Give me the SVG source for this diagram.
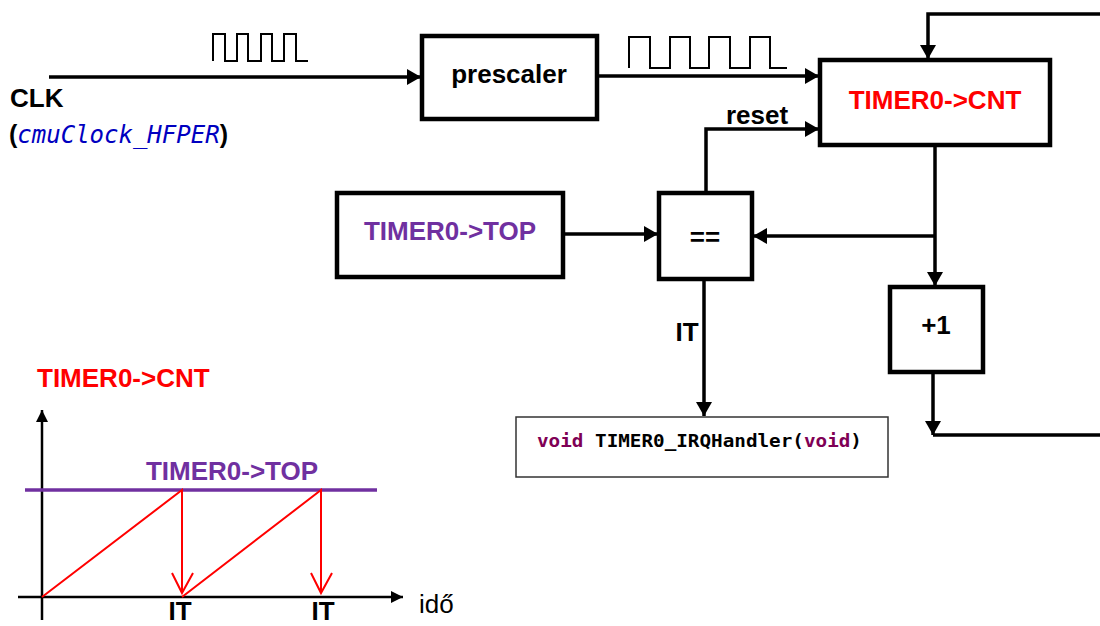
<svg xmlns="http://www.w3.org/2000/svg" width="1100" height="626" viewBox="0 0 1100 626">
<style>
.box{fill:#fff;stroke:#000;stroke-width:4.5}
.ln{fill:none;stroke:#000;stroke-width:3.5}
.wave{fill:none;stroke:#000;stroke-width:2}
.t{font-family:"Liberation Sans",Arial,sans-serif;font-weight:bold;font-size:26px;fill:#000}
.mono{font-family:"DejaVu Sans Mono","Liberation Mono",monospace;font-weight:bold;font-size:18px;fill:#000}
</style>
<defs>
<marker id="ah" viewBox="0 0 14 16" refX="14" refY="8" markerWidth="14" markerHeight="16" markerUnits="userSpaceOnUse" orient="auto">
<path d="M0,0 L14,8 L0,16 z" fill="#000"/>
</marker>
<marker id="ah2" viewBox="0 0 12 12" refX="12" refY="6" markerWidth="12" markerHeight="12" markerUnits="userSpaceOnUse" orient="auto">
<path d="M0,0 L12,6 L0,12 z" fill="#000"/>
</marker>
</defs>
<rect width="1100" height="626" fill="#fff"/>

<g id="connectors">
<path class="ln" d="M49,77 H421" marker-end="url(#ah)"/>
<path class="ln" d="M597,76 H819" marker-end="url(#ah)"/>
<path class="ln" d="M1100,14 H928 V59" marker-end="url(#ah)"/>
<path class="ln" d="M706,193 V129 H819" marker-end="url(#ah)"/>
<path class="ln" d="M563,234 H658" marker-end="url(#ah)"/>
<path class="ln" d="M935,145 V286" marker-end="url(#ah)"/>
<path class="ln" d="M935,236 H753" marker-end="url(#ah)"/>
<path class="ln" d="M933,372 V435" marker-end="url(#ah)"/>
<path class="ln" d="M933,435 H1100"/>
<path class="ln" d="M704,279 V416" marker-end="url(#ah)"/>
<text class="t" x="757" y="124" text-anchor="middle" font-size="24">reset</text>
<text class="t" x="687" y="341" text-anchor="middle" font-size="24">IT</text>
</g>

<g id="clk">
<path class="wave" d="M213,61 V34 H225 V61 H237 V34 H248 V61 H261 V34 H272 V61 H284 V34 H296 V61 H308"/>
<text class="t" x="10" y="107" font-size="22">CLK</text>
<text x="9" y="143" font-family="Liberation Sans,Arial,sans-serif" font-size="25" font-weight="bold">(<tspan font-family="DejaVu Sans Mono,Liberation Mono,monospace" font-weight="normal" font-style="italic" fill="#0000c0" font-size="24">cmuClock_HFPER</tspan>)</text>
</g>

<g id="prescaler">
<rect class="box" x="422" y="36" width="175" height="83"/>
<text class="t" x="509" y="83" text-anchor="middle" font-size="27">prescaler</text>
</g>

<g id="wave2">
<path class="wave" d="M629,68 V37 H650 V68 H670 V37 H690 V68 H709 V37 H730 V68 H750 V37 H770 V68 H787"/>
</g>

<g id="cnt">
<rect class="box" x="820" y="60" width="230" height="85"/>
<text class="t" x="935" y="109" text-anchor="middle" font-size="27" style="fill:#ff0000">TIMER0-&gt;CNT</text>
</g>

<g id="top">
<rect class="box" x="337" y="193" width="226" height="84"/>
<text class="t" x="450" y="240" text-anchor="middle" font-size="27" style="fill:#7030a0">TIMER0-&gt;TOP</text>
</g>

<g id="eq">
<rect class="box" x="659" y="193" width="93" height="86"/>
<text class="t" x="705" y="246" text-anchor="middle" font-size="27">==</text>
</g>

<g id="plus1">
<rect class="box" x="890" y="287" width="93" height="85"/>
<text class="t" x="936" y="334" text-anchor="middle" font-size="27">+1</text>
</g>

<g id="irq">
<rect x="516" y="417" width="372" height="60" fill="#fff" stroke="#333" stroke-width="1.5"/>
<text class="mono" x="537" y="447" textLength="325" lengthAdjust="spacingAndGlyphs"><tspan fill="#7f0055">void</tspan> TIMER0_IRQHandler(<tspan fill="#7f0055">void</tspan>)</text>
</g>

<g id="chart">
<path d="M42,620 V410" stroke="#000" stroke-width="2.5" fill="none" marker-end="url(#ah2)"/>
<path d="M18,597 H403" stroke="#000" stroke-width="2.5" fill="none" marker-end="url(#ah2)"/>
<path d="M25,490 H377" stroke="#7030a0" stroke-width="3.5" fill="none"/>
<g stroke="#ff0000" stroke-width="2" fill="none">
<path d="M42,597 L182,490 V593"/>
<path d="M172,573 L182,593 L193,573"/>
<path d="M182,597 L321,490 V593"/>
<path d="M311,573 L321,593 L332,573"/>
</g>
<text class="t" x="37" y="387" font-size="21" style="fill:#ff0000">TIMER0-&gt;CNT</text>
<text class="t" x="232" y="480" text-anchor="middle" font-size="27" style="fill:#7030a0">TIMER0-&gt;TOP</text>
<text class="t" x="180" y="620" text-anchor="middle" font-size="21">IT</text>
<text class="t" x="323" y="620" text-anchor="middle" font-size="21">IT</text>
<text x="419" y="613" font-family="Liberation Sans,Arial,sans-serif" font-size="26" fill="#000">idő</text>
</g>
</svg>
